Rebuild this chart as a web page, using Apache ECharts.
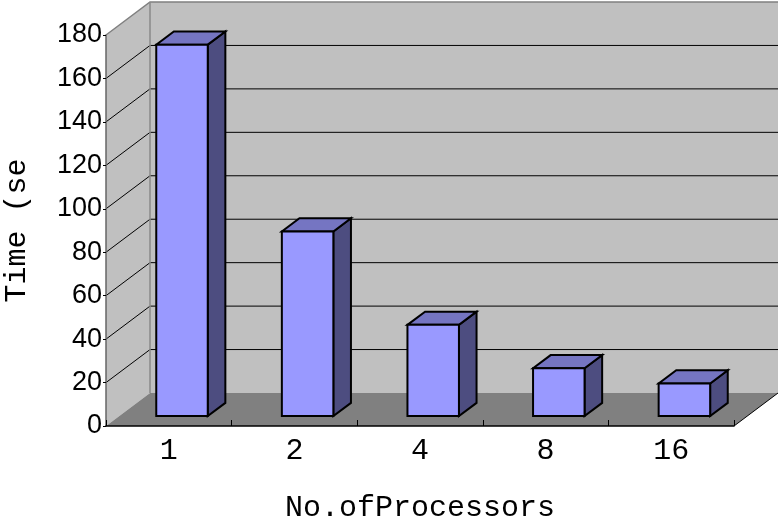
<!DOCTYPE html>
<html>
<head>
<meta charset="utf-8">
<script src="https://cdn.jsdelivr.net/npm/echarts@6/dist/echarts.min.js"></script>
<style>
html,body{margin:0;padding:0;background:#fff;}
#chart{width:778px;height:518px;}
</style>
</head>
<body>
<div id="chart"></div>
<script>
// ---- data ----
const categories = ['1', '2', '4', '8', '16'];
const timeValues = [171, 85, 42, 22, 15];
const yMin = 0, yMax = 180, yStep = 20;
const xTitle = 'No.ofProcessors';
const yTitle = 'Time (sec)';

// ---- style constants ----
const DEPTH = [44, -33];          // oblique depth vector of the plot box
const BAR_F0 = 0.30, BAR_F1 = 0.70; // bar front/back position within depth
const BAR_W = 0.41;               // bar width as fraction of category band

const chart = echarts.init(document.getElementById('chart'), null, {renderer: 'canvas'});

function wallsRender(params, api) {
  const cs = params.coordSys;
  const dx = DEPTH[0], dy = DEPTH[1];
  const L = cs.x, R = cs.x + cs.width, T = cs.y, B = cs.y + cs.height;
  const ch = [];
  ch.push({type: 'polygon', shape: {points: [[L, T], [L + dx, T + dy], [L + dx, B + dy], [L, B]]},
    style: {fill: '#c0c0c0', stroke: null}});
  ch.push({type: 'polygon', shape: {points: [[L + dx, T + dy], [R + dx, T + dy], [R + dx, B + dy], [L + dx, B + dy]]},
    style: {fill: '#c0c0c0', stroke: null}});
  ch.push({type: 'polygon', shape: {points: [[L, B], [L + dx, B + dy], [R + dx, B + dy], [R, B]]},
    style: {fill: '#808080', stroke: null}});
  for (let v = yMin + yStep; v < yMax; v += yStep) {
    const y = api.coord([0, v])[1];
    ch.push({type: 'polyline', shape: {points: [[L, y], [L + dx, y + dy], [R + dx, y + dy]]},
      style: {stroke: '#000', lineWidth: 1, fill: null}});
  }
  ch.push({type: 'polyline', shape: {points: [[L, T], [L + dx, T + dy], [R + dx, T + dy]]},
    style: {stroke: '#808080', lineWidth: 1.5, fill: null}});
  ch.push({type: 'line', shape: {x1: L + dx, y1: T + dy, x2: L + dx, y2: B + dy},
    style: {stroke: '#8a8a8a', lineWidth: 1.5}});
  ch.push({type: 'line', shape: {x1: R, y1: B, x2: R + dx, y2: B + dy},
    style: {stroke: '#000', lineWidth: 1}});
  return {type: 'group', children: ch};
}

function barRender(params, api) {
  const i = api.value(0), v = api.value(1);
  const base = api.coord([i, 0]);
  const top = api.coord([i, v]);
  const band = api.size([1, 0])[0];
  const hw = band * BAR_W / 2;
  const ox = DEPTH[0] * BAR_F0, oy = DEPTH[1] * BAR_F0;
  const ddx = DEPTH[0] * (BAR_F1 - BAR_F0), ddy = DEPTH[1] * (BAR_F1 - BAR_F0);
  const x0 = base[0] + ox - hw, x1 = base[0] + ox + hw;
  const yb = base[1] + oy, yt = top[1] + oy;
  const st = {stroke: '#000', lineWidth: 2, lineJoin: 'miter'};
  return {type: 'group', children: [
    {type: 'polygon', shape: {points: [[x1, yt], [x1 + ddx, yt + ddy], [x1 + ddx, yb + ddy], [x1, yb]]},
      style: Object.assign({fill: '#4d4d80'}, st)},
    {type: 'polygon', shape: {points: [[x0, yt], [x1, yt], [x1 + ddx, yt + ddy], [x0 + ddx, yt + ddy]]},
      style: Object.assign({fill: '#7575c2'}, st)},
    {type: 'rect', shape: {x: x0, y: yt, width: x1 - x0, height: yb - yt},
      style: Object.assign({fill: '#9999ff'}, st)}
  ]};
}

const option = {
  animation: false,
  backgroundColor: '#fff',
  grid: {left: 106, right: 44, top: 35, bottom: 92, containLabel: false, outerBoundsMode: 'none'},
  xAxis: {
    type: 'category',
    data: categories,
    boundaryGap: true,
    name: xTitle,
    nameLocation: 'middle',
    nameGap: 67,
    nameTextStyle: {fontFamily: 'Liberation Mono', fontSize: 30, color: '#000'},
    axisLine: {show: true, lineStyle: {color: '#000', width: 1.5}},
    axisTick: {show: true, inside: true, length: 6, lineStyle: {color: '#000'}},
    axisLabel: {fontFamily: 'Liberation Mono', fontSize: 30, color: '#000', margin: 10},
    splitLine: {show: false},
    z: 10
  },
  yAxis: {
    type: 'value',
    min: yMin, max: yMax, interval: yStep,
    name: yTitle,
    nameLocation: 'middle',
    nameGap: 74,
    nameRotate: 90,
    nameTruncate: {maxWidth: 160, ellipsis: ''},
    nameTextStyle: {fontFamily: 'Liberation Mono', fontSize: 30, color: '#000'},
    axisLine: {show: true, lineStyle: {color: '#666', width: 1.5}},
    axisTick: {show: true, length: 3, lineStyle: {color: '#000'}},
    axisLabel: {fontFamily: 'Liberation Sans', fontSize: 27, color: '#000', margin: 4, padding: [6, 0, 0, 0]},
    splitLine: {show: false},
    z: 10
  },
  series: [
    {
      type: 'custom',
      name: 'walls',
      renderItem: wallsRender,
      data: [[0, 0]],
      clip: false,
      silent: true,
      z: 1
    },
    {
      type: 'custom',
      name: 'Time',
      renderItem: barRender,
      data: timeValues.map((v, i) => [i, v]),
      clip: false,
      z: 5
    }
  ]
};
chart.setOption(option);
</script>
</body>
</html>
